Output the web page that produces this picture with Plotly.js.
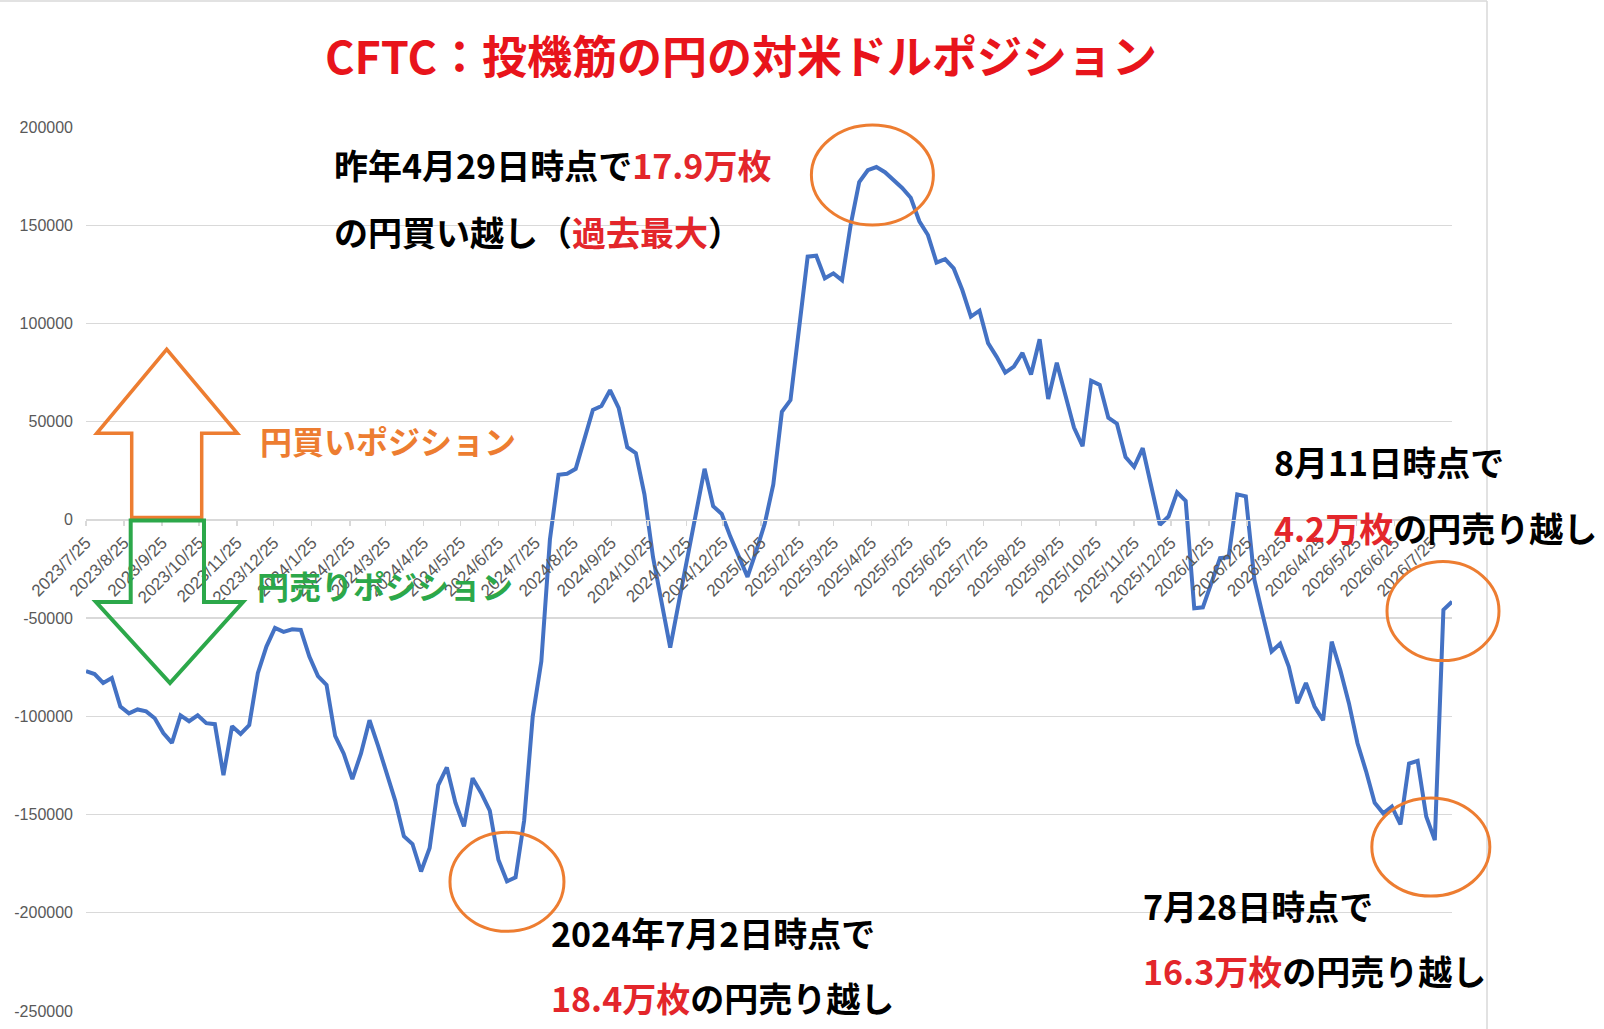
<!DOCTYPE html>
<html>
<head>
<meta charset="utf-8">
<script src="https://cdn.plot.ly/plotly-3.0.1.min.js"></script>
<style>
html,body{margin:0;padding:0;background:#ffffff;}
#chart{width:1604px;height:1029px;}
</style>
</head>
<body>
<div id="chart"></div>
<script>
// ---- data (weekly CFTC net yen positions, contracts) ----
const startDate = '2023-07-25';
const positions = [
  -77000, -78500, -83000, -80500, -95000, -98500, -96500, -97500, -101000, -108500,
  -113500, -99500, -102500, -99500, -103500, -104000, -130000, -105000, -109000, -104500,
  -78000, -64500, -55000, -57000, -55700, -56000, -69600, -79500, -84000, -110000,
  -119000, -132000, -119000, -102000, -115000, -129000, -143000, -161000, -165000, -179000,
  -167000, -135000, -126000, -144000, -156000, -131500, -139000, -148000, -173000, -184000,
  -182000, -153000, -100000, -72000, -10000, 23000, 23500, 26000, 41000, 56000,
  58000, 66000, 57000, 37000, 34000, 13000, -19000, -41000, -65000, -42000,
  -20000, 3000, 26000, 7000, 3000, -8500, -19000, -29000, -16000, -2000,
  18000, 55000, 61000, 97000, 134000, 134500, 123000, 125500, 122000, 150000,
  172000, 178000, 179600, 177000, 173000, 169000, 164000, 152000, 145000, 131000,
  132700, 128000, 117000, 103500, 106500, 90000, 83000, 75000, 78000, 85000,
  74000, 92000, 61500, 80000, 63500, 47000, 37500, 70800, 68700, 52000,
  49000, 32000, 27000, 36500, 17000, -2500, 1700, 14000, 9700, -45000,
  -44500, -32000, -19500, -19000, 13000, 12000, -30500, -49000, -67000, -63000,
  -74700, -93300, -83000, -95000, -102000, -62000, -76400, -93300, -113700, -128000,
  -144000, -149400, -146000, -155000, -124000, -122700, -151000, -163000, -45800, -41600
];
const xTickLabels = [
  '2023/7/25','2023/8/25','2023/9/25','2023/10/25','2023/11/25','2023/12/25',
  '2024/1/25','2024/2/25','2024/3/25','2024/4/25','2024/5/25','2024/6/25',
  '2024/7/25','2024/8/25','2024/9/25','2024/10/25','2024/11/25','2024/12/25',
  '2025/1/25','2025/2/25','2025/3/25','2025/4/25','2025/5/25','2025/6/25',
  '2025/7/25','2025/8/25','2025/9/25','2025/10/25','2025/11/25','2025/12/25',
  '2026/1/25','2026/2/25','2026/3/25','2026/4/25','2026/5/25','2026/6/25',
  '2026/7/25'
];
const yTickVals = [200000, 150000, 100000, 50000, 0, -50000, -100000, -150000, -200000, -250000];
const yTickText = ['200000','150000','100000','50000','0','-50000','-100000','-150000','-200000','-250000'];
const yRange = [-250000, 200000];

// ---- helpers ----
function isoDate(d){ return d.toISOString().slice(0,10); }
function weeklyDates(start, n){
  const p = start.split('-').map(Number);
  const out = [];
  for (let i = 0; i < n; i++) out.push(isoDate(new Date(Date.UTC(p[0], p[1]-1, p[2] + 7*i))));
  return out;
}
function slashToIso(s){
  const p = s.split('/');
  return p[0] + '-' + p[1].padStart(2,'0') + '-' + p[2].padStart(2,'0');
}
const dates = weeklyDates(startDate, positions.length);
const xTickVals = xTickLabels.map(slashToIso);
const lastIdx = positions.length - 1;
const xRange = [dates[0], dates[lastIdx]];

// plot-area geometry in page pixels (used to place decorations)
const W = 1604, H = 1029, PL = 86, PR = 1452, PT = 127, PB = 1011;
const px = x => (x - PL) / (PR - PL);
const py = y => (PB - y) / (PB - PT);
// data -> paper fraction (same linear mapping the axes use)
const t0 = Date.parse(xRange[0]), t1 = Date.parse(xRange[1]);
const dataPx = i => (Date.parse(dates[i]) - t0) / (t1 - t0);
const dataPy = i => (positions[i] - yRange[0]) / (yRange[1] - yRange[0]);

function argMax(a){ let k=0; a.forEach((v,i)=>{ if(v>a[k]) k=i; }); return k; }
function argMin(a){ let k=0; a.forEach((v,i)=>{ if(v<a[k]) k=i; }); return k; }
const peakIdx = argMax(positions);
const troughIdx = argMin(positions);
const recentLowIdx = positions.length - 10 + argMin(positions.slice(-10));

const ORANGE = '#ed7d31', GREEN = '#2ca84a', RED = '#e3262b', TITLE_RED = '#e8141b';
const JP = '"Noto Sans CJK JP", "Noto Sans", sans-serif';

function ellipse(idx, x0, x1, y0, y1){
  return {type:'circle', xref:'paper', yref:'paper', xsizemode:'pixel', ysizemode:'pixel',
    xanchor: dataPx(idx), yanchor: dataPy(idx), x0:x0, x1:x1, y0:y0, y1:y1,
    line:{color:ORANGE, width:3}, fillcolor:'rgba(0,0,0,0)', layer:'above'};
}
function pathPaper(pts){
  return 'M ' + pts.map(p => px(p[0]).toFixed(5) + ',' + py(p[1]).toFixed(5)).join(' L ') + ' Z';
}
function note(x, y, html, size){
  return {xref:'paper', yref:'paper', x:px(x), y:py(y), xanchor:'left', yanchor:'middle',
    text:html, showarrow:false, font:{family:JP, size:size || 34, color:'#000000'}, align:'left'};
}
const red = s => '<span style="color:' + RED + '">' + s + '</span>';

const trace = {
  x: dates, y: positions, type:'scatter', mode:'lines',
  line:{color:'#4472c4', width:4}, hoverinfo:'skip', showlegend:false
};

const layout = {
  width:W, height:H,
  margin:{l:PL, r:W-PR, t:PT, b:H-PB, pad:0},
  paper_bgcolor:'#ffffff', plot_bgcolor:'#ffffff',
  showlegend:false,
  font:{family:JP},
  title:{
    text:'<b>CFTC：投機筋の円の対米ドルポジション</b>',
    font:{family:JP, size:45, color:TITLE_RED},
    xref:'paper', x:px(741), xanchor:'center',
    yref:'container', y:1 - 58/H, yanchor:'middle'
  },
  xaxis:{
    type:'date', range:xRange,
    tickvals:xTickVals, ticktext:xTickLabels, tickangle:-45,
    tickfont:{family:'"Liberation Sans", Arial, sans-serif', size:17, color:'#595959'},
    ticks:'outside', ticklen:5, tickcolor:'#d9d9d9', tickwidth:1.3,
    showline:true, linecolor:'#d9d9d9', linewidth:1.3,
    showgrid:false, zeroline:false,
    anchor:'free', position:(0 - yRange[0]) / (yRange[1] - yRange[0]),
    automargin:false, fixedrange:true
  },
  yaxis:{
    range:yRange, tickvals:yTickVals, ticktext:yTickText,
    tickfont:{family:'"Liberation Sans", Arial, sans-serif', size:16, color:'#595959'},
    ticks:'', ticklabelstandoff:12,
    showgrid:true, gridcolor:'#d9d9d9', gridwidth:1.3,
    zeroline:false, showline:false, automargin:false, fixedrange:true
  },
  shapes:[
    // chart frame (top and right edges)
    {type:'line', xref:'paper', yref:'paper', x0:px(0), x1:px(1487), y0:py(1), y1:py(1), line:{color:'#d9d9d9', width:1.5}},
    {type:'line', xref:'paper', yref:'paper', x0:px(1487), x1:px(1487), y0:py(1), y1:py(H), line:{color:'#d9d9d9', width:1.5}},
    // up arrow (yen long)
    {type:'path', xref:'paper', yref:'paper', layer:'above',
      path:pathPaper([[131.7,517.5],[131.7,433.3],[96.7,433.3],[166.7,349.3],[237.3,433.3],[201.7,433.3],[201.7,517.5]]),
      line:{color:ORANGE, width:3.5}, fillcolor:'rgba(0,0,0,0)'},
    // down arrow (yen short)
    {type:'path', xref:'paper', yref:'paper', layer:'above',
      path:pathPaper([[130.7,520.5],[204,520.5],[204,602],[243,602],[170,683],[96,602],[130.7,602]]),
      line:{color:GREEN, width:4}, fillcolor:'rgba(0,0,0,0)'},
    // highlight ellipses anchored to data points
    ellipse(peakIdx, -65, 57, -58, 42),
    ellipse(troughIdx, -57, 57, -50, 49),
    ellipse(recentLowIdx, -63, 55, -56, 42),
    ellipse(lastIdx, -65, 47, -59, 40)
  ],
  annotations:[
    note(332, 165, '<b>昨年4月29日時点で' + red('17.9万枚') + '</b>'),
    note(332, 231, '<b>の円買い越し（' + red('過去最大') + '）</b>'),
    {xref:'paper', yref:'paper', x:px(258), y:py(440), xanchor:'left', yanchor:'middle', showarrow:false,
      text:'<b>円買いポジション</b>', font:{family:JP, size:32, color:ORANGE}},
    {xref:'paper', yref:'paper', x:px(255), y:py(585), xanchor:'left', yanchor:'middle', showarrow:false,
      text:'<b>円売りポジション</b>', font:{family:JP, size:32, color:GREEN}},
    note(1272, 461, '<b>8月11日時点で</b>'),
    note(1272, 527, '<b>' + red('4.2万枚') + 'の円売り越し</b>'),
    note(549, 932, '<b>2024年7月2日時点で</b>'),
    note(549, 997, '<b>' + red('18.4万枚') + 'の円売り越し</b>'),
    note(1141, 905, '<b>7月28日時点で</b>'),
    note(1141, 970, '<b>' + red('16.3万枚') + 'の円売り越し</b>')
  ]
};

Plotly.newPlot('chart', [trace], layout, {staticPlot:true, displayModeBar:false});
</script>
</body>
</html>
